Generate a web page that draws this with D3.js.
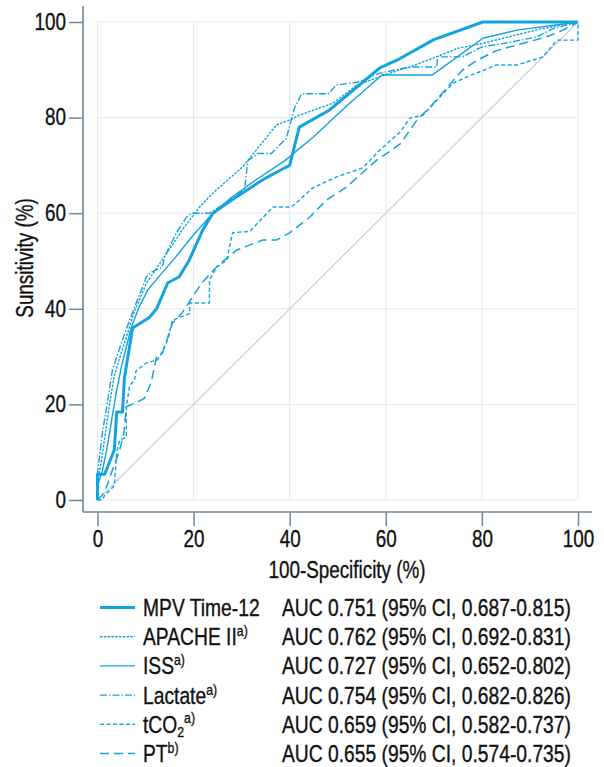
<!DOCTYPE html>
<html>
<head>
<meta charset="utf-8">
<script src="https://cdn.jsdelivr.net/npm/d3@7"></script>
<style>
    body { margin: 0; background: #fff; }
    svg text { font-family: "Liberation Sans", Arial, sans-serif; fill: #111; stroke: #111; stroke-width: 0.35px; }
</style>
</head>
<body>
<svg id="chart" width="604" height="767"></svg>
<script>
(function (d3) {
    'use strict';

    // ROC curves, [100-specificity, sensitivity] in %
    var mpv = [[0,0],[0,5.4],[1.5,5.4],[3.5,10.5],[4,18.4],[5.2,18.4],[5.6,25.5],[7.3,36],[10.8,38.2],
        [12.3,40],[14.6,45.4],[17,46.7],[19,50],[21.9,56.5],[24,60],[28,62.8],[34.4,67],[39,69.5],
        [40,70],[42,78],[48.3,81.6],[54,86.4],[58.75,90.4],[62.3,92],[70,96.3],[80.2,100],[100,100]];

    var apache = [[0,0],[0,4],[0.8,8],[1.5,13],[2.5,20],[3.5,26],[5,31],[6,34],[7.5,39],[10.2,45.4],
        [14,51],[18,57],[21.25,61.3],[24,64.2],[30.2,69.7],[37.3,78.5],[40,79.5],[42,80.5],[49,83],
        [54,86.8],[60,89],[63,90],[65,90.6],[70,92.5],[75,94.5],[80,95.5],[86,97],[92,98.5],[100,100]];

    var iss = [[0,0],[0,3],[1,6],[2,11],[3,17],[4,23],[5,28],[6,32],[7,36],[8.5,40],[10.5,44],[13,47],
        [16,50.5],[20,55.5],[24,60],[28,63.4],[33,67],[39,71],[45,76],[52,82.6],[59.2,88.9],[69.6,88.9],
        [70.5,89.5],[80.2,96.6],[87.3,98.3],[100,100]];

    var lactate = [[0,0],[0,5.6],[1,14],[2,20],[3.1,27.2],[5.2,33.5],[6.7,37.7],[10.2,46.7],[11.2,47.7],
        [13.5,48.7],[13.9,50.8],[16.5,56],[18.5,59.2],[19.6,60],[23.3,60],[28,63],[30.6,65],[31.3,71],
        [33.4,72.5],[36.2,72.5],[39.3,75.7],[41,82],[42.5,85],[48,85],[49.7,86.8],[54,87.4],[58.75,89.3],
        [65,90.6],[70.6,90.6],[70.8,92.7],[76,92.7],[80,94.8],[85,95.6],[91.5,96.9],[95,98.7],[100,100]];

    var tco2 = [[0,0],[1,0],[1.5,1],[3.5,3],[4,10],[4.6,12.5],[6,13.2],[6,19.5],[6.7,24],[7.7,25],[8,27],
        [10.2,28.7],[12.5,29.3],[13.3,30.7],[14.6,33.5],[15.6,37.6],[19.2,39],[19.2,41.2],[23.3,41.2],
        [23.3,46],[24.8,48.7],[26.9,50.2],[28.1,55.9],[31.7,56.2],[36.5,61.3],[40.4,61.3],[44.8,65.3],
        [49.8,67.6],[55.2,69.5],[58.75,73.2],[63,77],[65,79.9],[67.7,80.5],[74,87.2],[76.9,88.5],[83,91],
        [87.3,91],[92.7,92.7],[95.6,96.2],[100,96.2],[100,100]];

    var pt = [[0,0],[1,1],[2,3],[3,6],[4.5,10],[5.5,14],[6,19.5],[8.3,20.5],[9.8,21.3],[11.2,24.7],
        [12.3,30],[13.5,30.7],[15.6,37],[17.5,39],[21.7,45.4],[25,49],[29,52.3],[34.4,54.4],[37.3,54.4],
        [40,55.9],[44.2,59.2],[47.7,62.8],[51.9,65.5],[54.6,68],[58.1,71.1],[60.2,72.5],[63,74.5],
        [66.5,79.5],[69.2,82.2],[76,90],[79,92],[83,94],[87.3,95.2],[93.5,96.9],[96.9,98.3],[100,100]];

    var reference = [[0,0],[100,100]];

    var seriesNames = ['MPV Time-12', 'APACHE II', 'ISS', 'Lactate', 'tCO2', 'PT'];
    var seriesNotes = ['', 'a)', 'a)', 'a)', 'a)', 'b)'];
    var aucLabels = [
        'AUC 0.751 (95% CI, 0.687-0.815)',
        'AUC 0.762 (95% CI, 0.692-0.831)',
        'AUC 0.727 (95% CI, 0.652-0.802)',
        'AUC 0.754 (95% CI, 0.682-0.826)',
        'AUC 0.659 (95% CI, 0.582-0.737)',
        'AUC 0.655 (95% CI, 0.574-0.735)'
    ];
    var ticks = [0, 20, 40, 60, 80, 100];

    var blue = '#13a3e1';
    var squeeze = 0.82; // the original uses a condensed face
    var styles = [
        { width: 3,   dash: null },
        { width: 1.4, dash: '2.5,1.3' },
        { width: 1.4, dash: null },
        { width: 1.4, dash: '7,2,1.5,2' },
        { width: 1.4, dash: '4,2.5' },
        { width: 1.5, dash: '9,5' }
    ];
    var curves = [mpv, apache, iss, lactate, tco2, pt];

    var svg = d3.select('#chart');

    var x = d3.scaleLinear().domain([0, 100]).range([97.5, 578]),
        y = d3.scaleLinear().domain([0, 100]).range([500, 22]);

    var axisX = 83, axisY = 512, axisColor = '#6f8796';

    // grid
    var grid = svg.append('g').attr('stroke', '#e1ebf3').attr('stroke-width', 1);
    grid.selectAll('.gx').data(ticks).enter().append('line')
        .attr('x1', x).attr('x2', x).attr('y1', y(100)).attr('y2', y(0));
    grid.selectAll('.gy').data(ticks).enter().append('line')
        .attr('y1', y).attr('y2', y).attr('x1', x(0)).attr('x2', x(100));

    // chance line
    var line = d3.line().x(function (d) { return x(d[0]); }).y(function (d) { return y(d[1]); });
    svg.append('path').datum(reference)
        .attr('d', line).attr('fill', 'none')
        .attr('stroke', '#c7d2db').attr('stroke-width', 1.3);

    // curves (thick one last so it sits on top)
    var order = [5, 4, 3, 2, 1, 0];
    svg.append('g').selectAll('path').data(order).enter().append('path')
        .attr('d', function (i) { return line(curves[i]); })
        .attr('fill', 'none')
        .attr('stroke', blue)
        .attr('stroke-width', function (i) { return styles[i].width; })
        .attr('stroke-dasharray', function (i) { return styles[i].dash; })
        .attr('stroke-linejoin', 'round');

    // axes
    function styleAxis(g) {
        g.select('.domain').remove();
        g.selectAll('line').attr('stroke', axisColor).attr('stroke-width', 1.5);
        g.selectAll('text').attr('font-size', 23).attr('fill', '#111')
            .attr('font-family', '"Liberation Sans", Arial, sans-serif')
            .attr('x', function () { return +d3.select(this).attr('x') / squeeze; })
            .attr('transform', 'scale(' + squeeze + ',1)');
    }

    svg.append('g').attr('transform', 'translate(0,' + axisY + ')')
        .call(d3.axisBottom(x).tickValues(ticks).tickSize(14).tickPadding(5))
        .call(styleAxis);
    svg.append('g').attr('transform', 'translate(' + axisX + ',0)')
        .call(d3.axisLeft(y).tickValues(ticks).tickSize(14).tickPadding(3))
        .call(styleAxis);

    svg.append('line').attr('x1', axisX).attr('x2', 592).attr('y1', axisY).attr('y2', axisY)
        .attr('stroke', axisColor).attr('stroke-width', 1.6);
    svg.append('line').attr('x1', axisX).attr('x2', axisX).attr('y1', 6).attr('y2', axisY)
        .attr('stroke', axisColor).attr('stroke-width', 1.6);

    // axis titles
    svg.append('text').attr('transform', 'translate(347,578) scale(' + squeeze + ',1)')
        .attr('text-anchor', 'middle').attr('font-size', 23)
        .text('100-Specificity (%)');
    svg.append('text').attr('transform', 'translate(33,258) rotate(-90) scale(' + squeeze + ',1)')
        .attr('text-anchor', 'middle').attr('font-size', 23)
        .text('Sunsitivity (%)');

    // legend
    var legend = svg.append('g').selectAll('g').data(seriesNames).enter().append('g')
        .attr('transform', function (d, i) { return 'translate(0,' + (616 + i * 29.2) + ')'; });

    legend.append('line')
        .attr('x1', 100).attr('x2', 135).attr('y1', -8.5).attr('y2', -8.5)
        .attr('stroke', blue)
        .attr('stroke-width', function (d, i) { return styles[i].width; })
        .attr('stroke-dasharray', function (d, i) { return styles[i].dash; });

    var label = legend.append('text').attr('font-size', 23.5)
        .attr('transform', 'translate(143,0) scale(' + squeeze + ',1)');
    label.each(function (d, i) {
        var t = d3.select(this);
        if (d === 'tCO2') {
            t.append('tspan').text('tCO');
            t.append('tspan').attr('font-size', 15).attr('dy', 4).text('2');
            t.append('tspan').attr('font-size', 15).attr('dy', -14).text(seriesNotes[i]);
        } else {
            t.append('tspan').text(d);
            if (seriesNotes[i]) {
                t.append('tspan').attr('font-size', 15).attr('dy', -9).text(seriesNotes[i]);
            }
        }
    });

    legend.append('text').attr('font-size', 23.5)
        .attr('transform', 'translate(282,0) scale(' + squeeze + ',1)')
        .text(function (d, i) { return aucLabels[i]; });
}(window.d3));
</script>
</body>
</html>
